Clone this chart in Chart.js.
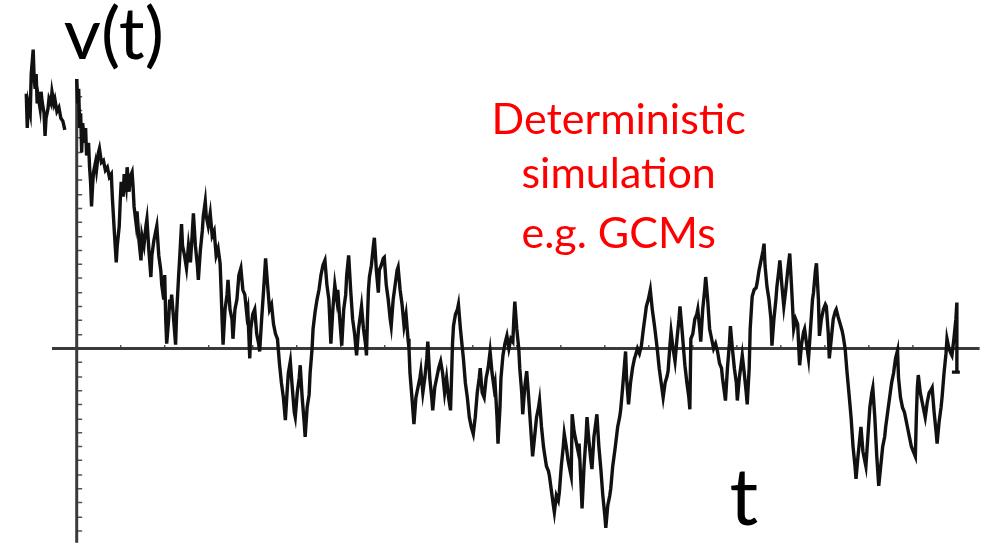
<!DOCTYPE html>
<html>
<head>
<meta charset="utf-8">
<script src="https://cdn.jsdelivr.net/npm/chart.js@4"></script>
<style>
  body { margin: 0; background: #fff; }
  canvas { display: block; }
</style>
</head>
<body>
<canvas id="chart" width="996" height="556"></canvas>
<script>
// time axis (t) and signal v(t); null = break in the trace
const tValues = [
  -51,-50,-49,-47,-46,-44,-43,-42,-41,-40,-39,-37,-36,-35,-33,-32,-31,-29,-28,-26,-25,-23,-22,-20,-18,-16,-14,-12,
  -6,
  0,1,2,3,4,5,6,8,9,10,12,13,14,15,16,17,19,20,22,23,25,27,29,31,33,35,36,38,40,41,43,44,45,47,48,50,51,53,54,56,57,58,60,61,63,65,66,68,70,71,73,75,76,78,80,81,83,85,86,88,89,90,91,93,94,95,96,98,100,
  101,103,104,106,107,109,111,113,115,117,118,120,122,123,125,127,128,130,131,133,135,137,139,141,143,145,146,147,148,150,152,153,155,157,158,160,162,164,166,168,170,172,173,175,176,178,180,182,184,185,187,189,191,193,195,197,199,
  201,203,205,207,209,211,213,214,216,218,220,221,223,225,226,228,230,231,233,235,236,238,239,241,243,245,247,249,251,253,255,257,259,261,263,264,266,268,270,272,273,275,277,279,281,283,285,287,288,290,292,293,294,295,296,298,300,
  301,303,305,306,308,310,311,313,315,317,318,320,322,324,325,327,329,331,333,335,336,337,339,341,343,345,347,348,350,352,354,355,357,359,360,362,364,366,368,370,372,374,376,378,379,380,381,383,385,386,388,390,391,393,395,397,399,
  401,403,405,407,408,410,412,414,416,418,420,422,423,425,426,428,429,431,433,435,437,439,441,442,443,445,447,448,450,451,453,455,457,459,461,463,465,467,468,470,472,473,475,477,478,480,482,483,485,487,488,490,492,493,495,497,499,
  500,501,503,505,507,508,510,511,513,515,516,518,520,521,523,525,526,528,530,532,534,535,537,539,540,542,544,545,547,549,550,552,554,555,556,558,560,562,564,565,567,569,571,573,575,576,578,580,582,584,585,587,589,591,593,595,597,598,
  600,601,603,605,607,609,610,612,614,615,617,619,620,621,623,625,627,628,630,631,633,635,636,638,640,642,644,646,648,650,652,653,655,656,658,660,661,663,665,667,668,670,672,673,675,677,678,680,681,683,685,687,688,690,692,694,695,696,698,
  700,702,703,705,707,708,710,711,713,715,717,719,721,723,725,727,729,731,733,735,736,738,740,742,744,745,747,748,750,751,753,755,757,758,760,761,763,765,767,768,770,772,774,775,777,779,781,783,785,787,788,790,792,793,795,797,798,
  800,802,804,805,807,809,811,813,815,817,818,820,822,824,826,828,830,831,833,835,837,838,840,842,844,846,848,849,850,851,853,855,857,858,860,862,864,865,867,869,870,872,874,875,877,879,880,882,884,885,887,889,890,890,885,893
];
const vValues = [
  260,225,250,240,280,305,275,265,280,250,258,245,262,252,240,217,235,245,255,250,262,250,254,242,246,235,232,223,
  null,
  275,250,265,225,240,200,230,210,225,197,210,185,170,145,165,180,190,182,200,204,190,192,182,185,175,178,155,120,88,105,125,150,170,155,178,165,185,160,175,180,165,145,128,140,110,90,115,105,125,132,100,73,95,110,120,125,95,80,65,50,75,30,5,30,50,40,55,30,4,
  35,73,90,127,105,95,82,105,88,120,138,105,85,70,100,120,135,150,135,125,138,115,120,95,102,87,60,30,4,40,55,70,40,30,10,40,50,75,82,60,55,35,40,-10,20,35,40,15,5,-3,30,60,92,65,40,45,25,
  15,10,-15,-35,-50,-73,-40,-25,-13,-40,-65,-70,-45,-30,-17,-50,-75,-90,-60,-47,-25,0,20,37,50,60,75,85,90,65,50,5,40,65,50,60,30,3,40,55,75,95,60,30,15,-7,20,35,43,20,5,-7,30,60,73,85,105,
  113,80,57,80,85,92,93,65,50,30,23,50,65,80,83,60,45,23,35,10,0,-25,-50,-77,-50,-40,-30,-23,-45,-30,-10,7,-30,-50,-63,-40,-30,-20,-13,-25,-45,-30,-50,-63,-30,5,23,35,40,45,20,0,-10,-35,-50,-70,-80,
  -87,-70,-45,-30,-20,-45,-50,-30,-20,-3,-25,-40,-35,-70,-97,-60,-30,-7,5,13,0,10,7,30,48,20,0,-20,-45,-67,-40,-23,-50,-80,-110,-90,-70,-60,-53,-80,-100,-107,-120,-125,-130,-145,-160,-167,-150,-155,-147,-120,-100,-87,-100,-115,-125,
  -130,-67,-85,-95,-105,-97,-140,-163,-120,-90,-70,-95,-115,-123,-90,-75,-67,-100,-123,-150,-170,-183,-160,-150,-143,-120,-105,-97,-80,-70,-63,-40,-15,-3,-30,-57,-35,-20,-10,-7,0,-5,3,20,35,43,50,60,40,25,17,0,-20,-35,-50,-35,-28,-23,
  5,17,0,-13,10,30,43,20,-5,-17,-35,-50,-62,10,15,30,35,40,20,7,40,60,73,50,20,10,0,5,-3,-15,-20,-30,-45,-53,-20,5,23,0,-20,-35,-53,-30,-15,-7,-25,-45,-57,-20,20,53,60,62,67,80,90,100,107,85,63,
  50,30,3,30,50,63,80,90,65,43,60,80,97,60,20,30,25,-17,5,17,20,5,-10,20,50,57,80,87,50,13,30,40,45,43,15,-10,10,30,38,40,32,25,18,13,0,-25,-47,-70,-100,-120,-133,-110,-90,-80,-105,-115,-120,
  -90,-60,-45,-40,-70,-110,-140,-120,-100,-90,-80,-65,-50,-35,-25,-10,-2,-30,-50,-60,-65,-70,-80,-90,-100,-105,-110,-70,-40,-27,-45,-55,-65,-70,-55,-45,-42,-40,-65,-85,-97,-75,-60,-50,-25,-5,10,0,-5,-7,10,30,47,-24,-24,-24
];

// axis extents and tick marks (same t / v units)
const axisT = [-25, 913];
const axisV = [275, -198];
const vTicks = [-186,-172,-157,-143,-129,-114,-100,-86,-72,-57,-43,-29,-14,14,29,43,57,72,86,100,114,129,143,157,172,186,200,215,229,243,257];
const tTicks = [44.5,89,133.5,178,222.5,267,311.5,356,400.5,445,489.5,534,578.5,623,667.5,712,756.5,801,845.5,890];

const yLabel = "v(t)";
const xLabel = "t";
const noteLines = ["Deterministic", "simulation", "e.g. GCMs"];

const axisColor = "#3a3a3a";

const textPlugin = {
  id: "labels",
  afterDatasetsDraw(c) {
    const ctx = c.ctx;
    const xs = c.scales.x, ys = c.scales.y;
    ctx.save();
    ctx.fillStyle = "#000";
    ctx.textBaseline = "alphabetic";
    ctx.textAlign = "left";
    ctx.font = "72px Lato";
    ctx.fillText(yLabel, xs.getPixelForValue(-13), ys.getPixelForValue(295));
    ctx.font = "80px Lato";
    ctx.fillText(xLabel, xs.getPixelForValue(660), ys.getPixelForValue(-180));
    ctx.fillStyle = "#ff0000";
    ctx.textAlign = "center";
    ctx.font = "43px Lato";
    const base = [219, 164, 103];
    noteLines.forEach((s, i) => {
      ctx.fillText(s, xs.getPixelForValue(548), ys.getPixelForValue(base[i]));
    });
    ctx.restore();
  }
};

new Chart(document.getElementById("chart"), {
  type: "line",
  data: {
    datasets: [
      {
        label: "v(t)",
        data: tValues.map((t, i) => ({ x: t, y: vValues[i] })),
        borderColor: "#111",
        borderWidth: 3.4,
        pointRadius: 0,
        tension: 0,
        spanGaps: false,
        order: 0
      },
      {
        label: "vertical axis",
        data: [{ x: 0, y: axisV[0] }, { x: 0, y: axisV[1] }],
        borderColor: axisColor,
        borderWidth: 3,
        pointRadius: 0,
        order: 1
      },
      {
        label: "horizontal axis",
        data: [{ x: axisT[0], y: 0 }, { x: axisT[1], y: 0 }],
        borderColor: axisColor,
        borderWidth: 3,
        pointRadius: 0,
        order: 1
      },
      {
        label: "v ticks",
        data: vTicks.map(v => ({ x: 3, y: v })),
        showLine: false,
        pointStyle: "line",
        pointRadius: 2.5,
        borderColor: "#555",
        borderWidth: 1.5,
        order: 1
      },
      {
        label: "t ticks",
        data: tTicks.map(t => ({ x: t, y: 2 })),
        showLine: false,
        pointStyle: "line",
        rotation: 90,
        pointRadius: 1.5,
        borderColor: "#555",
        borderWidth: 1.5,
        order: 1
      }
    ]
  },
  options: {
    responsive: false,
    animation: false,
    layout: { padding: 0 },
    plugins: { legend: { display: false }, tooltip: { enabled: false } },
    scales: {
      x: { type: "linear", min: -72, max: 924, display: false },
      y: { type: "linear", min: -206, max: 350, display: false }
    }
  },
  plugins: [textPlugin]
});
</script>
</body>
</html>
